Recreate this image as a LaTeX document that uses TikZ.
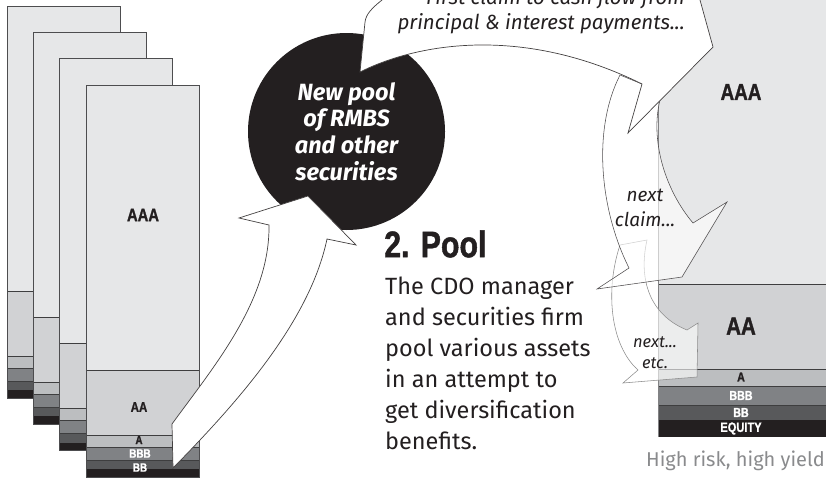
\documentclass[tikz,border=0pt]{standalone}
\usepackage{fontspec}
\setmainfont{Fira Sans}
\newfontfamily\condfont{Liberation Sans Bold}[FakeStretch=0.82, FakeBold=1.2]
\definecolor{cAAA}{HTML}{E6E7E8}
\definecolor{cAA}{HTML}{D1D2D4}
\definecolor{cA}{HTML}{BCBEC0}
\definecolor{cBBB}{HTML}{808285}
\definecolor{cBB}{HTML}{58595B}
\definecolor{cEQ}{HTML}{231F20}
\definecolor{ink}{HTML}{231F20}
\definecolor{edge}{HTML}{4D4D4F}
\definecolor{softgray}{HTML}{8A8B8D}
\tikzset{
  stackedge/.style={draw=edge, line width=0.8pt},
  tierline/.style={draw=edge!80!black, line width=0.7pt},
  bigarrow/.style={fill=white, draw=ink!85, line width=0.7pt, line join=miter},
  softarrowdark/.style={fill=white, fill opacity=0.6, draw=ink!80, draw opacity=1, line width=0.55pt},
  softarrowlight/.style={fill=white, fill opacity=0.6, draw=black!45, draw opacity=1, line width=0.55pt},
  tierlbl/.style={inner sep=0pt, font=\condfont},
  bodytext/.style={inner sep=0pt, text=ink},
}
\begin{document}
\begin{tikzpicture}[x=1pt,y=-1pt]
\useasboundingbox (0,0) rectangle (826,479);
\clip (0,0) rectangle (826,479);
\fill[white] (0,0) rectangle (826,479);

% ---- left stacks ----
\foreach \k in {0,1,2,3}{
  \begin{scope}[shift={({26.3*\k},{26.3*\k})}]
    \fill[cAAA] (7,6) rectangle (120,291);
    \fill[cAA] (7,291) rectangle (120,356);
    \fill[cA] (7,356) rectangle (120,368);
    \fill[cBBB] (7,368) rectangle (120,381);
    \fill[cBB] (7,381) rectangle (120,390);
    \fill[cEQ] (7,390) rectangle (120,398);
    \draw[tierline] (7,291) -- (120,291) (7,356) -- (120,356) (7,368) -- (120,368) (7,381) -- (120,381);
    \draw[stackedge] (7,6) rectangle (120,398);
  \end{scope}
}
\node[tierlbl, font=\condfont\fontsize{18}{18}\selectfont, text=ink] (lAAA) at (143,215) {AAA};
\node[tierlbl, font=\condfont\fontsize{14}{14}\selectfont, text=ink] (lAA) at (139,407) {AA};
\node[tierlbl, font=\condfont\fontsize{12}{12}\selectfont, text=ink] (lA) at (139,440) {A};
\node[tierlbl, font=\condfont\fontsize{12}{12}\selectfont, text=white] (lBBB) at (140,453.5) {BBB};
\node[tierlbl, font=\condfont\fontsize{12}{12}\selectfont, text=white] (lBB) at (140,467.5) {BB};

% ---- right column ----
\fill[cAAA] (658,-10) rectangle (830,284);
\fill[cAA] (658,284) rectangle (830,369);
\fill[cA] (658,369) rectangle (830,386);
\fill[cBBB] (658,386) rectangle (830,405);
\fill[cBB] (658,405) rectangle (830,420);
\fill[cEQ] (658,420) rectangle (830,437);
\draw[tierline] (658,284) -- (830,284) (658,369) -- (830,369) (658,386) -- (830,386) (658,405) -- (830,405);
\draw[draw=edge!70, line width=0.6pt] (658,-10) -- (658,437);
\node[tierlbl, font=\condfont\fontsize{23}{23}\selectfont, text=ink] (rAAA) at (741,92) {AAA};
\node[tierlbl, font=\condfont\fontsize{25}{25}\selectfont, text=ink] (rAA) at (741,326) {AA};
\node[tierlbl, font=\condfont\fontsize{13}{13}\selectfont, text=ink] (rA) at (741,377) {A};
\node[tierlbl, font=\condfont\fontsize{13}{13}\selectfont, text=white] (rBBB) at (741,395.5) {BBB};
\node[tierlbl, font=\condfont\fontsize{13}{13}\selectfont, text=white] (rBB) at (741,412.5) {BB};
\node[tierlbl, font=\condfont\fontsize{13.5}{13.5}\selectfont, text=white] (rEQ) at (741,428.5) {EQUITY};

% ---- pool circle ----
\node[circle, fill=ink, minimum size=197pt, inner sep=0pt, align=center, text=white,
      font=\bfseries\itshape\fontsize{23.5}{26.7}\selectfont] (pool) at (346.5,131.5)
      {New pool\\of RMBS\\and other\\securities};

% ---- arrow 1: stack to pool ----
\draw[bigarrow] (172,424) .. controls (215,365) and (270,300) .. (269,225)
  -- (239,218) -- (308,196) -- (356,245) -- (327,239)
  .. controls (310,320) and (240,400) .. (173,468) -- cycle;

% ---- arrow 4: next... etc. ----
\draw[softarrowlight] (620,245) .. controls (605,290) and (610,345) .. (638,370)
  -- (623,383) -- (697,377) -- (698,323) -- (687,330)
  .. controls (650,315) and (638,280) .. (647,240) -- cycle;

% ---- arrow 3: next claim ----
\draw[softarrowdark] (620,75) .. controls (592,130) and (600,210) .. (629,268)
  -- (597,289) -- (682,277) -- (727,202) -- (693,223)
  .. controls (665,190) and (650,140) .. (660,100) -- (642,84) -- cycle;

% ---- arrow 2: pool to AAA (first claim) ----
\draw[bigarrow] (360,72) .. controls (420,42) and (525,26) .. (642,84)
  -- (628,133) -- (713,47) -- (700,0)
  .. controls (680,-70) and (420,-70) .. (382,0)
  .. controls (372,8) and (366,14) .. (365,22) -- cycle;

% ---- texts ----
\node[bodytext, anchor=east, align=right, font=\itshape\fontsize{20.5}{25}\selectfont] (first) at (685,11)
  {First claim to cash flow from\\principal \& interest payments...};
\node[bodytext, anchor=west, font=\condfont\fontsize{37}{37}\selectfont] (pooltitle) at (384,244) {2. Pool};
\node[bodytext, anchor=north west, align=left, font=\fontsize{23.5}{31}\selectfont] (body) at (385,277)
  {The CDO manager\\and securities firm\\pool various assets\\in an attempt to\\get diversification\\benefits.};
\node[bodytext, align=center, font=\itshape\fontsize{19}{25}\selectfont] (next1) at (645,208) {next\\claim...};
\node[bodytext, align=center, font=\itshape\fontsize{16.5}{21}\selectfont] (next2) at (655,353) {next...\\etc.};
\node[inner sep=0pt, anchor=east, text=softgray, font=\fontsize{20}{20}\selectfont] (risk) at (825,461) {High risk, high yield};
\end{tikzpicture}
\end{document}
